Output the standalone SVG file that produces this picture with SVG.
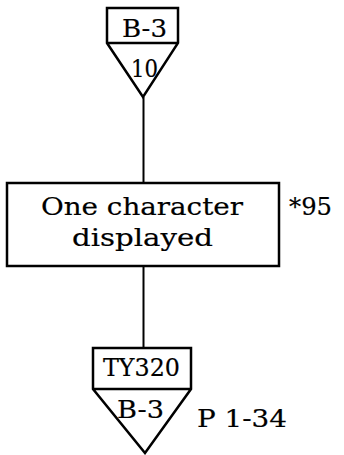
<svg xmlns="http://www.w3.org/2000/svg" width="344" height="455" viewBox="0 0 344 455">
<style>
.s{fill:none;stroke:#000;stroke-width:2.5;stroke-linejoin:miter}
.c{stroke:#000;stroke-width:2}
text{font-family:"DejaVu Serif","Liberation Serif",serif;fill:#000;stroke:#000;stroke-width:0.2;font-size:25px}
</style>
<rect width="344" height="455" fill="#fff"/>
<g id="connectors">
<line class="c" x1="143.5" y1="97" x2="143.5" y2="183"/>
<line class="c" x1="143.5" y1="266" x2="143.5" y2="348"/>
</g>
<g id="offpage-in">
<path class="s" d="M107,8 H178 V43 L143,97 L107,43 Z M107,43 H178"/>
<text x="122" y="37" textLength="45" lengthAdjust="spacingAndGlyphs">B-3</text>
<text x="131" y="77" textLength="27" lengthAdjust="spacingAndGlyphs">10</text>
</g>
<g id="process">
<rect class="s" x="7" y="183" width="272" height="83"/>
<text x="41" y="215" textLength="202" lengthAdjust="spacingAndGlyphs">One character</text>
<text x="72" y="246" textLength="141" lengthAdjust="spacingAndGlyphs">displayed</text>
<text x="289" y="215" font-size="19" textLength="43" lengthAdjust="spacingAndGlyphs">*95</text>
</g>
<g id="offpage-out">
<path class="s" d="M93,348 H191 V389 L145,453 L93,389 Z M93,389 H191"/>
<text x="103" y="376" textLength="77" lengthAdjust="spacingAndGlyphs">TY320</text>
<text x="117" y="418" textLength="47" lengthAdjust="spacingAndGlyphs">B-3</text>
<text x="197" y="427" textLength="90" lengthAdjust="spacingAndGlyphs">P 1-34</text>
</g>
</svg>
